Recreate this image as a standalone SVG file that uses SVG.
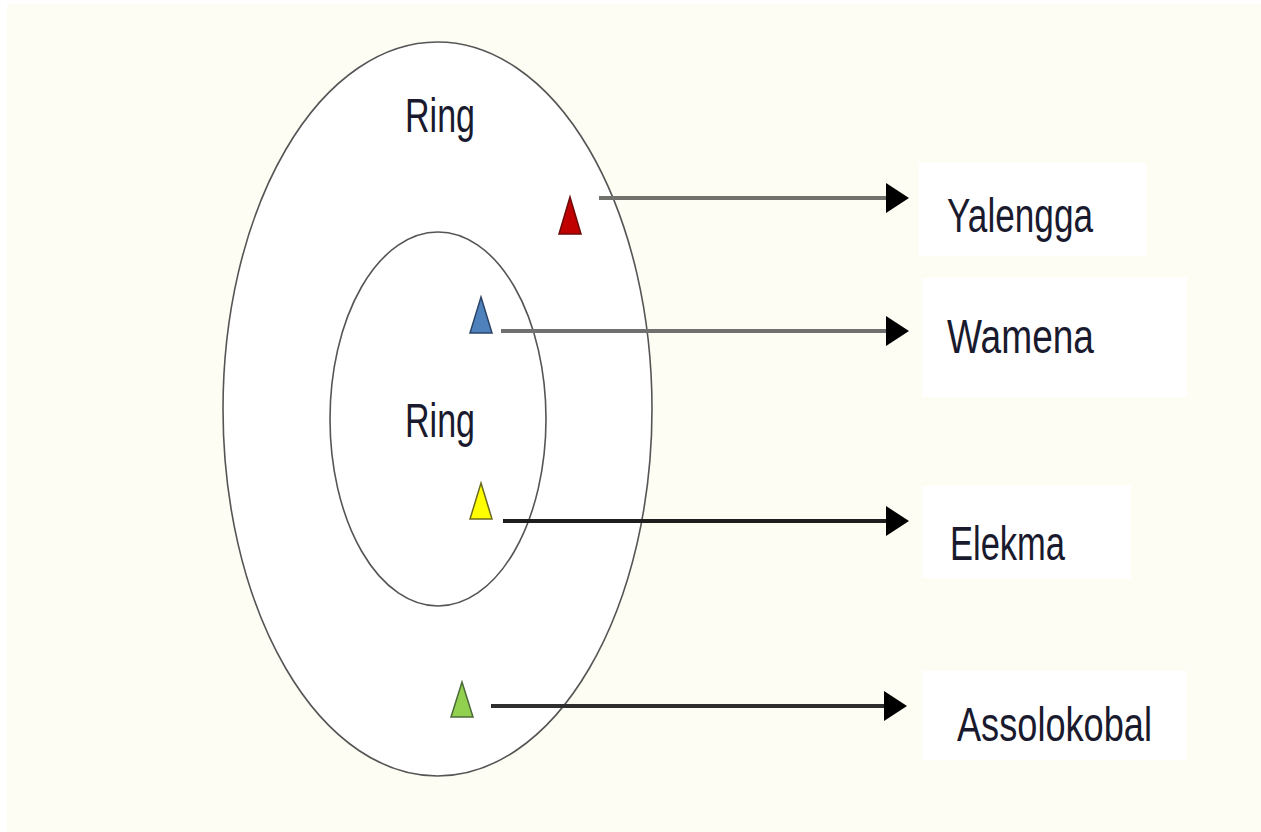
<svg xmlns="http://www.w3.org/2000/svg" width="1261" height="832" viewBox="0 0 1261 832">
<defs>
<style>
.ring{fill:#ffffff;stroke:#555555;stroke-width:1.6}
.lbl{font-family:"Liberation Sans",Arial,sans-serif;font-size:48px;fill:#1a1a2e}
.box{fill:#ffffff}
.conn{fill:none;stroke-width:4}
.mk{stroke-width:1.5}
</style>
<marker id="ah" markerUnits="userSpaceOnUse" markerWidth="24" markerHeight="32" refX="0" refY="16" orient="auto" viewBox="0 0 24 32">
<path d="M0,1 L23,16 L0,31 z" fill="#000000"/>
</marker>
</defs>
<rect x="0" y="0" width="1261" height="832" fill="#ffffff"/>
<rect x="7" y="4" width="1254" height="828" fill="#fdfdf3"/>

<g id="outer-ring">
<ellipse class="ring" cx="437.5" cy="409" rx="214.5" ry="367"/>
<text class="lbl" x="405" y="132" textLength="70" lengthAdjust="spacingAndGlyphs">Ring</text>
</g>
<g id="inner-ring">
<ellipse class="ring" cx="438" cy="419" rx="108" ry="187"/>
<text class="lbl" x="405" y="437" textLength="70" lengthAdjust="spacingAndGlyphs">Ring</text>
</g>

<g id="marker-red"><polygon class="mk" points="570,197 581,234 559,234" fill="#c00000" stroke="#6e0a0a"/></g>
<g id="marker-blue"><polygon class="mk" points="481,297 492,333 470,333" fill="#4f81bd" stroke="#2a4468"/></g>
<g id="marker-yellow"><polygon class="mk" points="481,483 492,519 470,519" fill="#ffff00" stroke="#6b6b20"/></g>
<g id="marker-green"><polygon class="mk" points="462,682 473,717 451,717" fill="#92d050" stroke="#4d6a3a"/></g>

<g id="node-yalengga">
<rect class="box" x="919" y="163" width="227" height="93"/>
<text class="lbl" x="947" y="232" textLength="146" lengthAdjust="spacingAndGlyphs">Yalengga</text>
</g>
<g id="node-wamena">
<rect class="box" x="922" y="278" width="265" height="119"/>
<text class="lbl" x="947" y="353" textLength="147" lengthAdjust="spacingAndGlyphs">Wamena</text>
</g>
<g id="node-elekma">
<rect class="box" x="922" y="486" width="209" height="92"/>
<text class="lbl" x="950" y="560" textLength="115" lengthAdjust="spacingAndGlyphs">Elekma</text>
</g>
<g id="node-assolokobal">
<rect class="box" x="922" y="671" width="265" height="89"/>
<text class="lbl" x="957" y="741" textLength="195" lengthAdjust="spacingAndGlyphs">Assolokobal</text>
</g>

<g id="connectors">
<line class="conn" x1="599" y1="198" x2="886" y2="198" stroke="#72726c" marker-end="url(#ah)"/>
<line class="conn" x1="501" y1="331" x2="886" y2="331" stroke="#707070" marker-end="url(#ah)"/>
<line class="conn" x1="503" y1="521" x2="886" y2="521" stroke="#1e1e1e" marker-end="url(#ah)"/>
<line class="conn" x1="491" y1="706" x2="884" y2="706" stroke="#2e2e2e" marker-end="url(#ah)"/>
</g>
</svg>
